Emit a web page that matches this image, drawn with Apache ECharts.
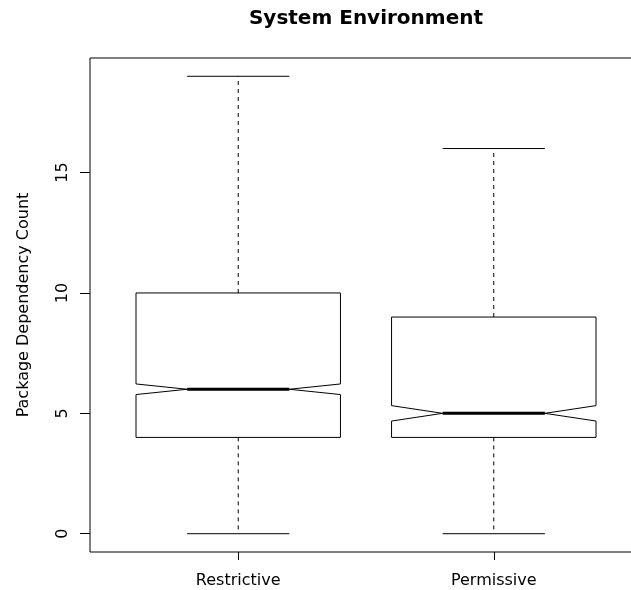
<!DOCTYPE html>
<html>
<head>
<meta charset="utf-8">
<script src="https://cdn.jsdelivr.net/npm/echarts@6/dist/echarts.min.js"></script>
<style>
html,body{margin:0;padding:0;background:#fff;}
#chart{width:631px;height:590px;}
</style>
</head>
<body>
<div id="chart"></div>
<script>
var categories = ['Restrictive', 'Permissive'];
var whiskerLow = [0, 0];
var q1 = [4, 4];
var median = [6, 5];
var q3 = [10, 9];
var whiskerHigh = [19, 16];
var notchLow = [5.78, 4.68];
var notchHigh = [6.22, 5.32];
var yTicks = [0, 5, 10, 15];

var FONT = 'DejaVu Sans';
var data = categories.map(function (c, i) {
  return [i + 1, whiskerLow[i], q1[i], median[i], q3[i], whiskerHigh[i], notchLow[i], notchHigh[i]];
});

var chart = echarts.init(document.getElementById('chart'), null, {renderer: 'canvas'});

function renderItem(params, api) {
  var x = api.value(0);
  var lo = api.value(1), a = api.value(2), m = api.value(3), b = api.value(4), hi = api.value(5);
  var nl = api.value(6), nh = api.value(7);
  var hw = 0.4, nw = 0.2, cw = 0.2;
  function P(dx, y) { return api.coord([x + dx, y]); }
  var poly = [P(-hw, b), P(hw, b), P(hw, nh), P(nw, m), P(hw, nl), P(hw, a), P(-hw, a), P(-hw, nl), P(-nw, m), P(-hw, nh)];
  var lineStyle = {stroke: '#000', lineWidth: 1, fill: null};
  var dashStyle = {stroke: '#000', lineWidth: 1, lineDash: [4, 4], fill: null};
  function seg(p1, p2, st) {
    return {type: 'line', shape: {x1: p1[0], y1: p1[1], x2: p2[0], y2: p2[1]}, style: st};
  }
  return {
    type: 'group',
    children: [
      seg(P(0, b), P(0, hi), dashStyle),
      seg(P(0, a), P(0, lo), dashStyle),
      seg(P(-cw, hi), P(cw, hi), lineStyle),
      seg(P(-cw, lo), P(cw, lo), lineStyle),
      {type: 'polygon', shape: {points: poly}, style: {stroke: '#000', lineWidth: 1, fill: '#fff'}},
      seg(P(-nw, m), P(nw, m), {stroke: '#000', lineWidth: 3})
    ]
  };
}

var option = {
  backgroundColor: '#fff',
  animation: false,
  title: {
    text: 'System Environment',
    left: 361,
    top: 4,
    textAlign: 'center',
    textStyle: {fontFamily: FONT, fontWeight: 'bold', fontSize: 20, color: '#000'}
  },
  grid: {
    left: 90, top: 58, width: 552, height: 494,
    show: true, borderColor: '#000', borderWidth: 1, backgroundColor: 'transparent',
    containLabel: false, outerBoundsMode: 'none'
  },
  xAxis: {
    type: 'value', min: 0.42, max: 2.58,
    splitLine: {show: false},
    axisLine: {show: false, onZero: false},
    axisTick: {show: true, customValues: [1, 2], length: 8, inside: false, lineStyle: {color: '#000'}},
    axisLabel: {
      show: true, customValues: [1, 2], margin: 21,
      formatter: function (v) { return categories[Math.round(v) - 1] || ''; },
      fontFamily: FONT, fontSize: 16, color: '#000'
    }
  },
  yAxis: {
    type: 'value', min: -0.76, max: 19.76,
    name: 'Package Dependency Count',
    nameLocation: 'middle', nameGap: 58, nameRotate: 90,
    nameTextStyle: {fontFamily: FONT, fontSize: 16, color: '#000'},
    splitLine: {show: false},
    axisLine: {show: false, onZero: false},
    axisTick: {show: true, customValues: yTicks, length: 10, inside: false, lineStyle: {color: '#000'}},
    axisLabel: {
      show: true, customValues: yTicks, rotate: 90, margin: 19,
      fontFamily: FONT, fontSize: 16, color: '#000'
    }
  },
  series: [{
    type: 'custom',
    renderItem: renderItem,
    data: data,
    clip: false,
    encode: {x: 0, y: [1, 5]}
  }]
};
chart.setOption(option);
</script>
</body>
</html>
